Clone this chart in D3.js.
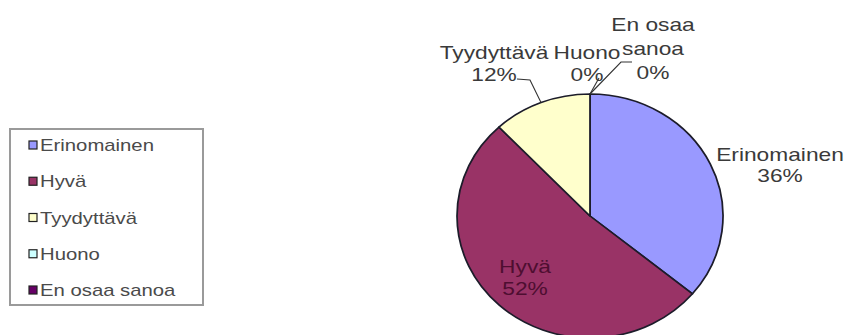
<!DOCTYPE html>
<html>
<head>
<meta charset="utf-8">
<script src="https://cdn.jsdelivr.net/npm/d3@7"></script>
<style>
  html, body { margin: 0; padding: 0; background: #fff; }
  svg { display: block; }
  text { font-family: "Liberation Sans", Arial, sans-serif; fill: #3a3a3a; }
</style>
</head>
<body>
<svg id="chart" width="850" height="335"></svg>
<script>
// Vastausten jakauma
const categories = ["Erinomainen", "Hyvä", "Tyydyttävä", "Huono", "En osaa sanoa"];
const values = [36, 52, 12, 0, 0];
const colors = ["#9999ff", "#993366", "#ffffcc", "#ccffff", "#660066"];
// label lines per slice
const labelLines = [["Erinomainen"], ["Hyvä"], ["Tyydyttävä"], ["Huono"], ["En osaa", "sanoa"]];

const W = 850, H = 335;
const svg = d3.select("#chart");

// pie geometry (slightly wider than tall)
const cx = 590, cy = 216, ry = 122, sx = 133 / 122;

// label anchors (centre x, first baseline y) and line height
const labelPos = [
  { x: 780, y: 161, lh: 21, color: "#3a3a3a" },
  { x: 525, y: 273, lh: 22, color: "#4e0e31" },
  { x: 494, y: 59, lh: 22, color: "#3a3a3a" },
  { x: 587, y: 59, lh: 22, color: "#3a3a3a" },
  { x: 653, y: 31, lh: 24, color: "#3a3a3a" }
];
const textScale = 1.3;
const labelFont = 17.5;

const data = categories.map((c, i) => ({ name: c, value: values[i], color: colors[i] }));

const pie = d3.pie().sort(null).value(d => d.value).startAngle(0).endAngle(2 * Math.PI);
const arc = d3.arc().innerRadius(0).outerRadius(ry);

const pieG = svg.append("g")
  .attr("transform", `translate(${cx},${cy}) scale(${sx},1)`);

pieG.selectAll("path")
  .data(pie(data).filter(d => d.data.value > 0))
  .join("path")
  .attr("d", arc)
  .attr("fill", d => d.data.color)
  .attr("stroke", "#1c1c2a")
  .attr("stroke-width", 1.6)
  .attr("stroke-linejoin", "round");

// leader lines for small slices (polyline from label to rim)
const topRim = [cx, cy - ry];
const leaders = [
  [[517, 79], [530, 80], [541, cy - Math.sqrt(1 - Math.pow((541 - cx) / (ry * sx), 2)) * ry]],
  [[632, 62], [621, 62], topRim],
  [[599, 78], topRim]
];
svg.selectAll("path.leader")
  .data(leaders)
  .join("path")
  .attr("class", "leader")
  .attr("d", d3.line())
  .attr("fill", "none")
  .attr("stroke", "#333")
  .attr("stroke-width", 1.1);

// data labels
data.forEach((d, i) => {
  const p = labelPos[i];
  const lines = labelLines[i].concat([d.value + "%"]);
  const g = svg.append("g")
    .attr("transform", `translate(${p.x},${p.y}) scale(${textScale},1)`);
  g.selectAll("text")
    .data(lines)
    .join("text")
    .attr("x", 0)
    .attr("y", (t, j) => j * p.lh)
    .attr("text-anchor", "middle")
    .attr("font-size", labelFont)
    .style("fill", p.color)
    .text(t => t);
});

// legend
const legend = svg.append("g");
legend.append("rect")
  .attr("x", 10).attr("y", 129)
  .attr("width", 193).attr("height", 176)
  .attr("fill", "#fff")
  .attr("stroke", "#9a9a9a")
  .attr("stroke-width", 2);

const legendY = d3.scalePoint().domain(categories).range([151, 296]);
const items = legend.selectAll("g.item")
  .data(data)
  .join("g")
  .attr("class", "item")
  .attr("transform", d => `translate(0,${legendY(d.name)})`);

items.append("rect")
  .attr("x", 29).attr("y", -10)
  .attr("width", 8).attr("height", 8)
  .attr("fill", d => d.color)
  .attr("stroke", "#222")
  .attr("stroke-width", 1.2);

items.append("text")
  .attr("transform", `translate(40,0) scale(1.27,1)`)
  .attr("font-size", 16)
  .style("fill", "#4a4a4a")
  .text(d => d.name);
</script>
</body>
</html>
